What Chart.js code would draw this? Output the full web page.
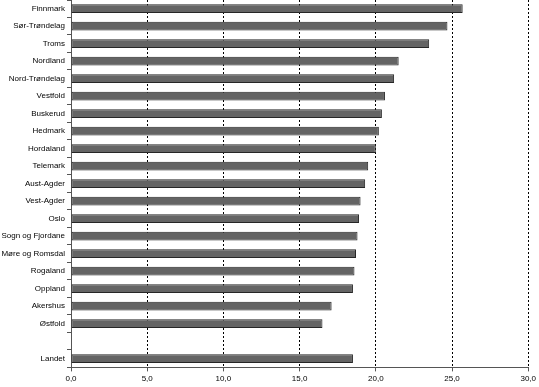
<!DOCTYPE html>
<html>
<head>
<meta charset="utf-8">
<script src="https://cdn.jsdelivr.net/npm/chart.js@4/dist/chart.umd.min.js"></script>
<style>
  html, body { margin: 0; padding: 0; background: #fff; }
  .chart-container { position: relative; width: 539px; height: 387px; }
</style>
</head>
<body>
<div class="chart-container"><canvas id="chart1"></canvas></div>
<script>
// fylker (tom rad før Landet)
const fylker = ['Finnmark', 'Sør-Trøndelag', 'Troms', 'Nordland', 'Nord-Trøndelag', 'Vestfold',
  'Buskerud', 'Hedmark', 'Hordaland', 'Telemark', 'Aust-Agder', 'Vest-Agder', 'Oslo',
  'Sogn og Fjordane', 'Møre og Romsdal', 'Rogaland', 'Oppland', 'Akershus', 'Østfold', '', 'Landet'];
const verdier = [25.7, 24.7, 23.5, 21.5, 21.2, 20.6, 20.4, 20.2, 20.0, 19.5, 19.3, 19.0, 18.9,
  18.8, 18.7, 18.6, 18.5, 17.1, 16.5, null, 18.5];
const xTicks = [0, 5, 10, 15, 20, 25, 30];

const font = { family: 'Liberation Sans, Arial, sans-serif', size: 8 };

new Chart(document.getElementById('chart1'), {
  type: 'bar',
  data: {
    labels: fylker,
    datasets: [{
      data: verdier,
      backgroundColor: '#646464',
      borderColor: '#262626',
      borderWidth: 1,
      borderSkipped: false,
      barPercentage: 0.5,
      categoryPercentage: 1
    }]
  },
  options: {
    indexAxis: 'y',
    responsive: true,
    maintainAspectRatio: false,
    animation: false,
    layout: { padding: { top: 0, right: 10, left: 0, bottom: 0 } },
    plugins: {
      legend: { display: false },
      tooltip: { enabled: false }
    },
    scales: {
      x: {
        min: xTicks[0],
        max: xTicks[xTicks.length - 1],
        afterBuildTicks: function (scale) {
          scale.ticks = xTicks.map(v => ({ value: v }));
        },
        ticks: {
          color: '#000',
          font: font,
          padding: 3,
          maxRotation: 0,
          callback: function (v) { return Number(v).toFixed(1).replace('.', ','); }
        },
        grid: {
          color: function (ctx) { return ctx.tick && ctx.tick.value === 0 ? 'rgba(0,0,0,0)' : '#000'; },
          lineWidth: 1,
          tickLength: 4,
          tickColor: '#555',
          tickBorderDash: []
        },
        border: { display: true, color: '#555', width: 1, dash: [2, 2] }
      },
      y: {
        afterFit: function (scale) {
          scale.width = 71;
          scale.paddingTop = 0;
          scale.paddingBottom = 0;
        },
        ticks: {
          color: '#000',
          font: font,
          padding: 2,
          autoSkip: false
        },
        grid: {
          drawOnChartArea: false,
          drawTicks: true,
          tickLength: 4,
          tickColor: '#555'
        },
        border: { display: true, color: '#555', width: 1 }
      }
    }
  }
});
</script>
</body>
</html>
